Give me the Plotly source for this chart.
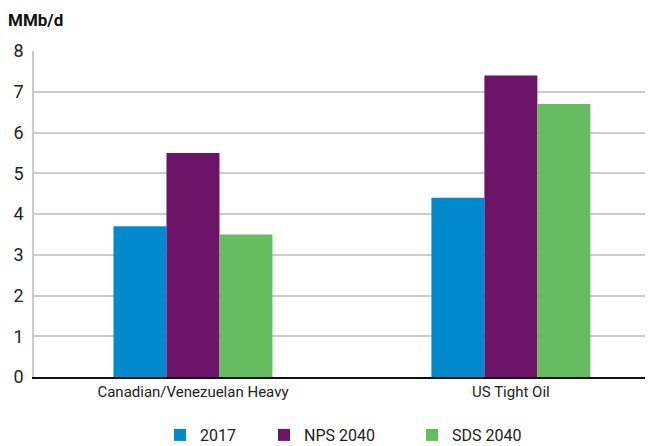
import plotly.graph_objects as go

categories = ["Canadian/Venezuelan Heavy", "US Tight Oil"]
series_names = ["2017", "NPS 2040", "SDS 2040"]
values_2017 = [3.7, 4.4]
values_nps = [5.5, 7.4]
values_sds = [3.5, 6.7]
colors = ["#008ACD", "#6B1468", "#66BD60"]
y_ticks = [0, 1, 2, 3, 4, 5, 6, 7, 8]

FONT = "Roboto"
PLOT_H = 326
PLOT_W = 619
L = 26
legend_left_px = [175, 279, 427]  # page x of each legend square
legend_ids = ["legend", "legend2", "legend3"]

fig = go.Figure()
for name, vals, c, lid in zip(series_names, [values_2017, values_nps, values_sds], colors, legend_ids):
    fig.add_trace(go.Bar(name=name, x=[0, 1], y=vals, legend=lid,
                         marker=dict(color=c, line=dict(width=0))))

def leg(px):
    return dict(orientation="h", x=(px - 8 - L - 15) / PLOT_W, xanchor="left",
                y=-58 / PLOT_H, yanchor="middle", bgcolor="rgba(0,0,0,0)",
                font=dict(family=FONT, size=16, color="#222"), itemwidth=30)

fig.update_layout(
    width=645, height=438,
    margin=dict(l=L, r=0, t=43, b=69, autoexpand=False),
    paper_bgcolor="white", plot_bgcolor="white",
    barmode="group", bargap=0.5, bargroupgap=0,
    font=dict(family=FONT, size=16, color="#222"),
    showlegend=True,
    legend=leg(legend_left_px[0]),
    legend2=leg(legend_left_px[1]),
    legend3=leg(legend_left_px[2]),
    xaxis=dict(range=[-0.5, 1.447], tickvals=[0, 1], ticktext=categories, automargin=False,
               showgrid=False, showline=True, linecolor="#111", linewidth=2,
               ticks="", tickfont=dict(family=FONT, size=15, color="#222"), zeroline=False),
    yaxis=dict(range=[0, 8], tickvals=y_ticks, showgrid=True, gridcolor="#CCCCCC", gridwidth=1.5,
               showline=True, linecolor="#CCCCCC", linewidth=1.5, ticks="", ticklen=0, automargin=False,
               ticklabelstandoff=5,
               tickfont=dict(family=FONT, size=18, color="#222"), zeroline=False),
    annotations=[dict(text="<b>MMb/d</b>", xref="paper", yref="paper", x=-L / PLOT_W, y=1 + 43 / PLOT_H,
                      xanchor="left", yanchor="top", yshift=0, xshift=-2, showarrow=False,
                      font=dict(family=FONT, size=17, color="#111"))],
)
fig.write_html("out.html")
